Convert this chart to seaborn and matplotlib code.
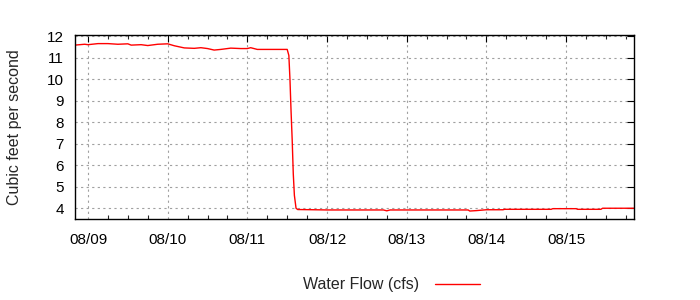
import matplotlib
matplotlib.use("Agg")
import matplotlib.pyplot as plt
import matplotlib.dates as mdates
import seaborn as sns
import pandas as pd

# ---- data ----
times = [
    "2024-08-08 20:00", "2024-08-08 23:00", "2024-08-09 00:00", "2024-08-09 03:00",
    "2024-08-09 06:00", "2024-08-09 09:00", "2024-08-09 12:00", "2024-08-09 13:00",
    "2024-08-09 16:00", "2024-08-09 18:00", "2024-08-09 21:00", "2024-08-10 00:00",
    "2024-08-10 02:00", "2024-08-10 05:00", "2024-08-10 08:00", "2024-08-10 10:00",
    "2024-08-10 12:00", "2024-08-10 14:00", "2024-08-10 16:00", "2024-08-10 19:00",
    "2024-08-10 22:00", "2024-08-11 00:00", "2024-08-11 01:00", "2024-08-11 03:00",
    "2024-08-11 12:00", "2024-08-11 12:30", "2024-08-11 12:50", "2024-08-11 13:10",
    "2024-08-11 13:30", "2024-08-11 13:50", "2024-08-11 14:10", "2024-08-11 14:40",
    "2024-08-11 15:10", "2024-08-11 20:00", "2024-08-12 00:00", "2024-08-12 17:00",
    "2024-08-12 18:00", "2024-08-12 19:00", "2024-08-13 18:30", "2024-08-13 19:00",
    "2024-08-13 21:00", "2024-08-14 00:00", "2024-08-14 05:00", "2024-08-14 05:30",
    "2024-08-14 19:30", "2024-08-14 20:00", "2024-08-15 03:00", "2024-08-15 03:30",
    "2024-08-15 10:30", "2024-08-15 11:00", "2024-08-15 20:30",
]
flow_cfs = [
    11.58, 11.62, 11.60, 11.65,
    11.65, 11.62, 11.64, 11.58,
    11.60, 11.56, 11.62, 11.64,
    11.55, 11.45, 11.43, 11.46,
    11.42, 11.35, 11.38, 11.44,
    11.42, 11.42, 11.46, 11.38,
    11.38, 11.10, 10.00, 8.50,
    7.20, 5.60, 4.60, 4.00,
    3.94, 3.93, 3.92, 3.92,
    3.88, 3.92, 3.92, 3.87,
    3.89, 3.93, 3.93, 3.95,
    3.95, 3.98, 3.98, 3.95,
    3.95, 4.00, 4.00,
]
series_label = "Water Flow (cfs)"
y_label = "Cubic feet per second"
y_ticks = [4, 5, 6, 7, 8, 9, 10, 11, 12]

df = pd.DataFrame({"time": pd.to_datetime(times), "flow": flow_cfs})

sns.set_style("white")
plt.rcParams["font.family"] = ["Liberation Sans", "DejaVu Sans"]

fig = plt.figure(figsize=(7, 3), dpi=100)
ax = fig.add_axes([75 / 700, 1 - 219 / 300, (634 - 75) / 700, (219 - 35) / 300])

sns.lineplot(data=df, x="time", y="flow", ax=ax, color="#ff0000", linewidth=1.0,
             label=series_label, legend=False)

ax.set_xlim(pd.Timestamp("2024-08-08 20:05"), pd.Timestamp("2024-08-15 20:28"))
ax.set_ylim(3.5, 12.05)
ax.set_yticks(y_ticks)

ax.xaxis.set_major_locator(mdates.DayLocator())
ax.xaxis.set_major_formatter(mdates.DateFormatter("%m/%d"))
ax.xaxis.set_minor_locator(mdates.HourLocator(byhour=[6, 12, 18]))

ax.grid(True, which="major", color="#a0a0a0", linestyle=(0, (2, 3)), linewidth=0.8)
for s in ax.spines.values():
    s.set_color("black")
    s.set_linewidth(1.0)

ax.tick_params(axis="both", which="major", direction="in", length=5, width=0.8,
               top=True, right=True, labelsize=11, colors="black")
ax.tick_params(axis="x", which="major", pad=10)
ax.tick_params(axis="y", which="major", pad=8)
ax.tick_params(axis="x", which="minor", direction="in", length=3, width=0.8,
               top=True, bottom=True)

ax.set_xlabel("")
ax.set_ylabel(y_label, fontsize=11.5)
ax.yaxis.set_label_coords(-0.095, 0.5)

handles, labels = ax.get_legend_handles_labels()
fig.legend(handles, labels, loc="center", bbox_to_anchor=(0.559, 0.05), frameon=False,
           markerfirst=False, fontsize=11.5, handlelength=2.8, handletextpad=1.0)

fig.savefig("out.png", dpi=100)
